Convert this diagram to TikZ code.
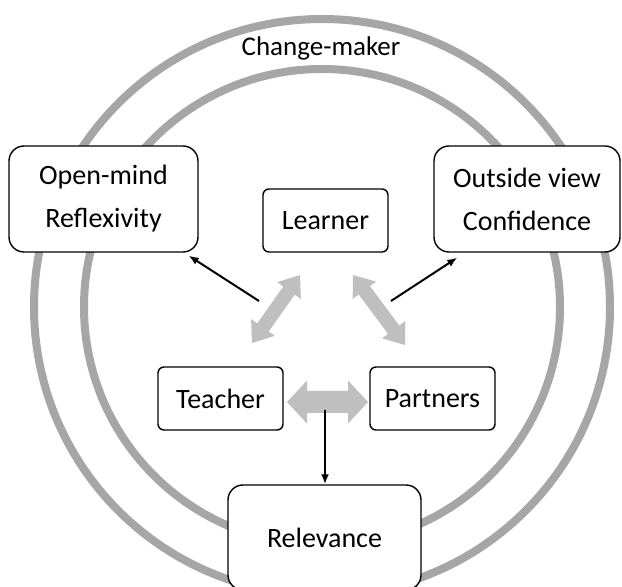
\documentclass[tikz,border=0pt]{standalone}
\usepackage{fontspec}
\setmainfont{Carlito}
\usetikzlibrary{arrows.meta,calc}
\definecolor{ringgray}{HTML}{A6A6A6}
\definecolor{arrowgray}{HTML}{BFBFBF}
% block double arrow: from, to, shaft half width, head half width, head length
\newcommand\blockarrow[5]{%
  \fill[arrowgray] let \p1=(#1), \p2=(#2),
    \n1={atan2(\y2-\y1,\x2-\x1)}, \n2={veclen(\x2-\x1,\y2-\y1)} in
    ([shift={(\p1)},rotate=\n1]0,0)
    -- ([shift={(\p1)},rotate=\n1]#5,#4)
    -- ([shift={(\p1)},rotate=\n1]#5,#3)
    -- ([shift={(\p1)},rotate=\n1]\n2-#5,#3)
    -- ([shift={(\p1)},rotate=\n1]\n2-#5,#4)
    -- ([shift={(\p1)},rotate=\n1]\n2,0)
    -- ([shift={(\p1)},rotate=\n1]\n2-#5,-#4)
    -- ([shift={(\p1)},rotate=\n1]\n2-#5,-#3)
    -- ([shift={(\p1)},rotate=\n1]#5,-#3)
    -- ([shift={(\p1)},rotate=\n1]#5,-#4)
    -- cycle;}
\tikzset{
  ring/.style={draw=ringgray, line width=8pt},
  boxbase/.style={draw=black, line width=1.4pt, fill=white, inner sep=0pt,
    align=center, font=\fontsize{28}{43}\selectfont},
  bigbox/.style={boxbase, rounded corners=15pt},
  smallbox/.style={boxbase, rounded corners=6pt, minimum width=125pt, minimum height=63pt},
  link/.style={draw=black, line width=2pt, -{Latex[length=10pt,width=8pt]}},
}
\begin{document}
\begin{tikzpicture}[x=1pt,y=1pt]
\useasboundingbox (0,0) rectangle (622,587);
\fill[white] (0,0) rectangle (622,587);
% rings
\coordinate (c) at (322,280);
\draw[ring] (c) circle[radius=288];
\draw[ring] (c) circle[radius=238];
\node[font=\fontsize{27}{32}\selectfont, anchor=base] (cm) at (321,531) {Change-maker};
% boxes
\node[bigbox, minimum width=189pt, minimum height=106pt] (om) at (103.5,388) {Open-mind\\Reflexivity};
\node[bigbox, minimum width=186pt, minimum height=106pt] (ov) at (527,388) {Outside view\\Confidence};
\node[smallbox] (le) at (325.5,366.5) {Learner};
\node[smallbox] (te) at (220.5,188.5) {Teacher};
\node[smallbox] (pa) at (432.5,188.5) {Partners};
\node[bigbox, minimum width=193pt, minimum height=105pt] (re) at (324.5,49.5) {Relevance};
% gray double arrows
\coordinate (gl1) at (252,244);
\coordinate (gl2) at (300,312);
\coordinate (gr1) at (353,312);
\coordinate (gr2) at (405,242);
\coordinate (gh1) at (287,185);
\coordinate (gh2) at (368,185);
\blockarrow{gl1}{gl2}{7}{14.5}{19}
\blockarrow{gr1}{gr2}{7}{14.5}{19}
\blockarrow{gh1}{gh2}{11}{21.5}{20}
% black arrows
\coordinate (bl) at (259,286);
\coordinate (br) at (391,286);
\coordinate (bv) at (325,177);
\draw[link] (bl) -- ([xshift=-10pt,yshift=-3pt]om.south east);
\draw[link] (br) -- ([xshift=24pt,yshift=-5pt]ov.south west);
\draw[link] (bv) -- (re.north -| bv);
\end{tikzpicture}
\end{document}
